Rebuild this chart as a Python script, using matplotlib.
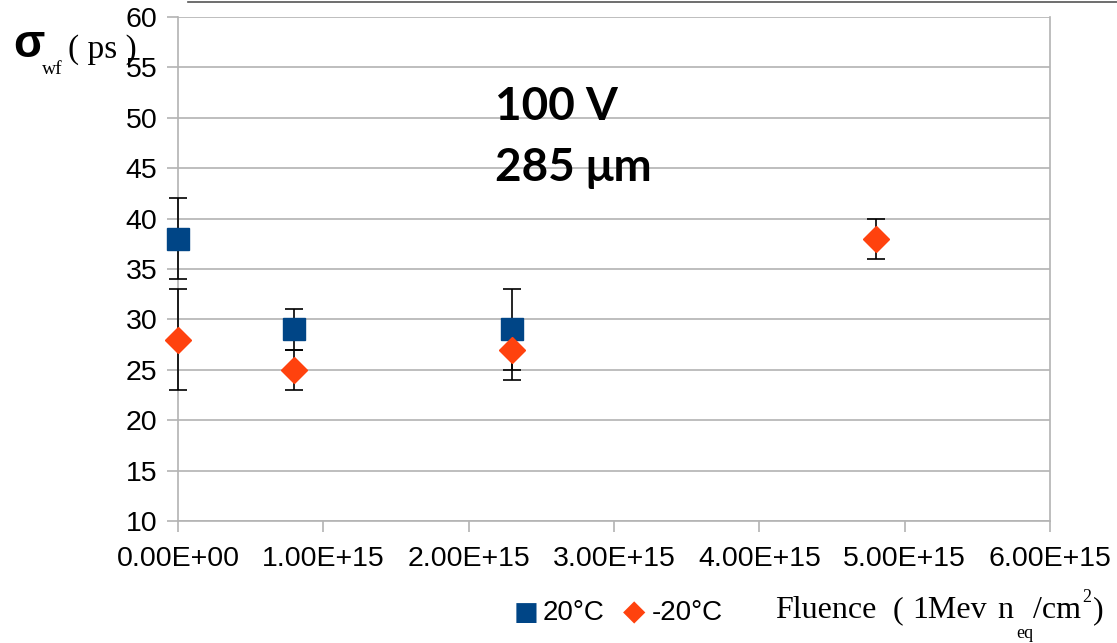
import matplotlib.pyplot as plt
from matplotlib.lines import Line2D

# data
fluence_20 = [0.0, 0.8e15, 2.3e15]
sigma_20 = [38, 29, 29]
err_20 = [4, 2, 4]

fluence_m20 = [0.0, 0.8e15, 2.3e15, 4.8e15]
sigma_m20 = [28, 25, 27, 38]
err_m20 = [5, 2, 3, 2]

x_ticks = [0, 1e15, 2e15, 3e15, 4e15, 5e15, 6e15]
x_tick_labels = ["0.00E+00", "1.00E+15", "2.00E+15", "3.00E+15",
                 "4.00E+15", "5.00E+15", "6.00E+15"]
y_ticks = list(range(10, 61, 5))

blue = "#004586"
orange = "#ff420e"
grid_col = "#b3b3b3"

W, H = 1117, 643
plt.rcParams['font.family'] = ['Liberation Sans', 'DejaVu Sans']

fig = plt.figure(figsize=(W / 100, H / 100), dpi=100)
ax = fig.add_axes([178 / W, (H - 521) / H, 872 / W, 504 / H])


def put(x, y, s, **kw):
    # place text at pixel position (x = left edge, y = baseline, from top)
    kw.setdefault('va', 'baseline')
    fig.text(x / W, 1 - y / H, s, **kw)


ax.errorbar(fluence_m20, sigma_m20, yerr=err_m20, fmt='none', ecolor='black',
            elinewidth=1.2, capsize=6.5, capthick=1.2, zorder=3, clip_on=False)
ax.errorbar(fluence_20, sigma_20, yerr=err_20, fmt='none', ecolor='black',
            elinewidth=1.2, capsize=6.5, capthick=1.2, zorder=3, clip_on=False)
ax.plot(fluence_20, sigma_20, 's', color=blue, markersize=16, zorder=4, clip_on=False)
ax.plot(fluence_m20, sigma_m20, 'D', color=orange, markersize=13, zorder=5, clip_on=False)

ax.set_xlim(0, 6e15)
ax.set_ylim(10, 60)
ax.set_xticks(x_ticks)
ax.set_xticklabels(x_tick_labels)
ax.set_yticks(y_ticks)
ax.yaxis.grid(True, color=grid_col, linewidth=1.2)
ax.set_axisbelow(True)

for side in ['left', 'right', 'bottom']:
    ax.spines[side].set_color(grid_col)
    ax.spines[side].set_linewidth(1.2)
ax.spines['top'].set_visible(False)
ax.tick_params(axis='x', direction='out', length=8, width=1.2, color=grid_col,
               labelsize=20.5, pad=10)
ax.tick_params(axis='y', direction='out', length=8, width=1.2, color=grid_col,
               labelsize=20.5, pad=7)

# text annotations
put(495, 120, "100 V", fontsize=33, fontweight='bold', family=['Lato', 'DejaVu Sans'])
put(495, 181, "285 \u03bcm", fontsize=33, fontweight='bold', family=['Lato', 'DejaVu Sans'])

# y label pieces
put(13, 57, "\u03c3", fontsize=33, fontweight='bold', family=['Liberation Sans'])
put(42, 74, "wf", fontsize=14, family=['Liberation Serif'])
put(68, 58, "( ps )", fontsize=24, family=['Liberation Serif'])

# legend + x label at bottom
put(514, 620, "\u25a0", fontsize=19, color=blue, family=['DejaVu Sans'])
put(543, 620, "20\u00b0C", fontsize=20)
put(623, 620, "\u25c6", fontsize=21, color=orange, family=['DejaVu Sans'])
put(652, 620, "-20\u00b0C", fontsize=20)
serif = ['Liberation Serif', 'DejaVu Serif']
put(775, 618, "Fluence", fontsize=23, family=serif)
put(893, 618, "(", fontsize=23, family=serif)
put(912, 618, "1Mev", fontsize=23, family=serif)
put(997, 618, "n", fontsize=23, family=serif)
put(1016, 638, "eq", fontsize=13, family=serif)
put(1033, 618, "/cm", fontsize=23, family=serif)
put(1082, 602, "2", fontsize=13, family=serif)
put(1093, 618, ")", fontsize=23, family=serif)

# thin line at the very top of the picture
fig.add_artist(Line2D([188 / W, 1.0], [1 - 2 / H, 1 - 2 / H], color='#555555',
                      linewidth=1.2, transform=fig.transFigure))

fig.savefig("out.png", dpi=100)
